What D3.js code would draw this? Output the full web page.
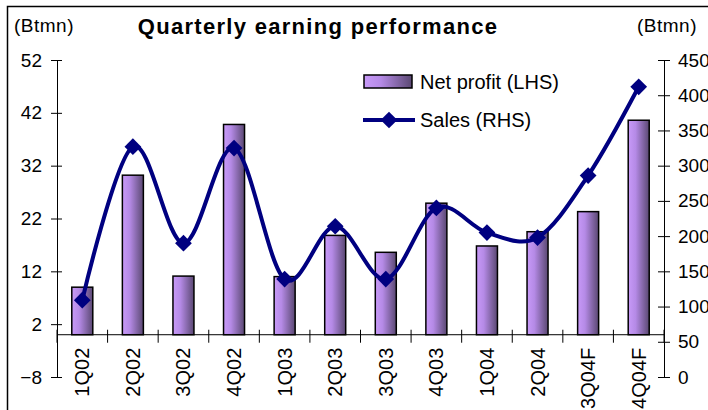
<!DOCTYPE html>
<html>
<head>
<meta charset="utf-8">
<script src="https://cdn.jsdelivr.net/npm/d3@7"></script>
<style>
  body { margin: 0; background: #fff; }
  svg text { font-family: "Liberation Sans", Arial, sans-serif; fill: #000; }
</style>
</head>
<body>
<svg id="chart" width="708" height="410"></svg>
<script>
const quarters = ["1Q02", "2Q02", "3Q02", "4Q02", "1Q03", "2Q03", "3Q03", "4Q03", "1Q04", "2Q04", "3Q04F", "4Q04F"];
const netProfit = [9.0, 30.2, 11.1, 39.8, 11.0, 18.8, 15.6, 24.9, 16.8, 19.5, 23.3, 40.6];
const sales = [109, 327, 190, 325, 139, 214, 139, 240, 205, 198, 286, 412];
const leftTicks = [52, 42, 32, 22, 12, 2, -8];
const rightTicks = [450, 400, 350, 300, 250, 200, 150, 100, 50, 0];

const svg = d3.select("#chart");
const plotLeft = 57, plotRight = 664, plotTop = 60, plotBottom = 377;

// outer frame
svg.append("rect")
    .attr("x", 7.5).attr("y", 6.5)
    .attr("width", 720).attr("height", 420)
    .attr("fill", "none").attr("stroke", "#000").attr("stroke-width", 1.5);

const x = d3.scaleBand().domain(quarters).range([plotLeft, plotRight]);
const yL = d3.scaleLinear().domain([-8, 52]).range([plotBottom, plotTop]);
const yR = d3.scaleLinear().domain([0, 450]).range([plotBottom, plotTop]);

// bar gradient
let defs = svg.append("defs");
let grad = defs.append("linearGradient").attr("id", "barGrad")
    .attr("x1", "0%").attr("x2", "100%").attr("y1", "0%").attr("y2", "0%");
grad.append("stop").attr("offset", "0%").attr("stop-color", "#c89af8");
grad.append("stop").attr("offset", "35%").attr("stop-color", "#b58ae6");
grad.append("stop").attr("offset", "100%").attr("stop-color", "#5a4872");

const barW = 21;
svg.append("g").selectAll("rect")
    .data(netProfit)
    .enter()
    .append("rect")
    .attr("x", (d, i) => x(quarters[i]) + x.bandwidth() / 2 - barW / 2)
    .attr("y", d => yL(d))
    .attr("width", barW)
    .attr("height", d => yL(0) - yL(d))
    .attr("fill", "url(#barGrad)")
    .attr("stroke", "#000")
    .attr("stroke-width", 1.5);

// category axis at zero
let xAxis = svg.append("g");
xAxis.append("line")
    .attr("x1", plotLeft).attr("x2", plotRight)
    .attr("y1", yL(0)).attr("y2", yL(0))
    .attr("stroke", "#000");
xAxis.selectAll(".xt")
    .data(d3.range(quarters.length + 1))
    .enter()
    .append("line")
    .attr("x1", i => plotLeft + i * x.step()).attr("x2", i => plotLeft + i * x.step())
    .attr("y1", yL(0) - 5).attr("y2", yL(0) + 8)
    .attr("stroke", "#000");
xAxis.selectAll("text")
    .data(quarters)
    .enter()
    .append("text")
    .attr("transform", d => "translate(" + (x(d) + x.bandwidth() / 2 + 7) + "," + (yL(0) + 13) + ") rotate(-90)")
    .attr("text-anchor", "end")
    .style("font-size", "20px")
    .text(d => d);

// left axis
let gl = svg.append("g").attr("transform", "translate(" + plotLeft + ",0)")
    .call(d3.axisLeft(yL).tickValues(leftTicks).tickSize(0).tickPadding(15));
gl.select(".domain").attr("stroke", "#000");
gl.selectAll("text").style("font-size", "19px").style("font-family", "Liberation Sans, Arial, sans-serif");
gl.selectAll(".tick line").attr("x1", -6).attr("x2", 5).attr("stroke", "#000");

// right axis
let gr = svg.append("g").attr("transform", "translate(" + plotRight + ",0)")
    .call(d3.axisRight(yR).tickValues(rightTicks).tickSize(0).tickPadding(14));
gr.select(".domain").attr("stroke", "#000");
gr.selectAll("text").style("font-size", "19px").style("font-family", "Liberation Sans, Arial, sans-serif");
gr.selectAll(".tick line").attr("x1", -6).attr("x2", 6).attr("stroke", "#000");

// sales line
const navy = "#000080";
let line = d3.line()
    .x((d, i) => x(quarters[i]) + x.bandwidth() / 2)
    .y(d => yR(d))
    .curve(d3.curveCardinal.tension(0));
svg.append("path")
    .datum(sales)
    .attr("d", line)
    .attr("fill", "none")
    .attr("stroke", navy)
    .attr("stroke-width", 4);

let diamond = d3.symbol().type(d3.symbolSquare).size(140);
svg.append("g").selectAll("path")
    .data(sales)
    .enter()
    .append("path")
    .attr("d", diamond)
    .attr("transform", (d, i) => "translate(" + (x(quarters[i]) + x.bandwidth() / 2) + "," + yR(d) + ") rotate(45)")
    .attr("fill", navy);

// titles
svg.append("text").attr("x", 318).attr("y", 34)
    .attr("text-anchor", "middle")
    .style("font-size", "22px").style("font-weight", "bold")
    .style("letter-spacing", "1.3px")
    .text("Quarterly earning performance");
svg.append("text").attr("x", 14).attr("y", 32)
    .style("font-size", "19px").style("letter-spacing", "0.5px").text("(Btmn)");
svg.append("text").attr("x", 637).attr("y", 32)
    .style("font-size", "19px").style("letter-spacing", "0.5px").text("(Btmn)");

// legend
let lg = svg.append("g");
lg.append("rect").attr("x", 364).attr("y", 75).attr("width", 48).attr("height", 13)
    .attr("fill", "url(#barGrad)").attr("stroke", "#000").attr("stroke-width", 1.5);
lg.append("text").attr("x", 420).attr("y", 89).style("font-size", "20px").text("Net profit (LHS)");
lg.append("line").attr("x1", 363).attr("x2", 415).attr("y1", 120).attr("y2", 120)
    .attr("stroke", navy).attr("stroke-width", 4);
lg.append("path").attr("d", diamond).attr("transform", "translate(389,120) rotate(45)").attr("fill", navy);
lg.append("text").attr("x", 420).attr("y", 127).style("font-size", "20px").text("Sales (RHS)");
</script>
</body>
</html>
